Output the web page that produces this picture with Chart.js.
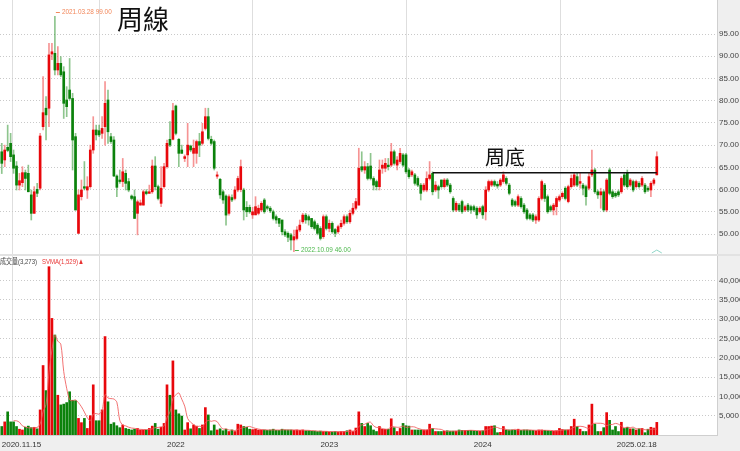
<!DOCTYPE html>
<html><head><meta charset="utf-8">
<script src="https://cdn.jsdelivr.net/npm/chart.js@4.4.1/dist/chart.umd.min.js"></script>
<style>
html,body{margin:0;padding:0;background:#fff;}
#wrap{position:relative;width:740px;height:451px;overflow:hidden;background:#fff;}
#pricebox{position:absolute;left:0;top:0;width:740px;height:254px;}
#volbox{position:absolute;left:0;top:256px;width:740px;height:195px;}
#sep{position:absolute;left:0;top:254px;width:740px;height:2px;background:#e2e2e2;}
.t{position:absolute;white-space:nowrap;line-height:1;}
#hdr{transform:scaleX(0.75);transform-origin:0 0;}
#dbg{position:absolute;left:300px;top:100px;color:#f0f;font:14px sans-serif;}
</style></head>
<body><div id="wrap">
<div id="pricebox"><canvas id="price" width="740" height="254"></canvas></div>
<div id="sep"></div>
<div id="volbox"><canvas id="vol" width="740" height="195"></canvas></div>
<div class="t" style="left:117px;top:5px;font-size:26px;font-family:'Noto Sans CJK TC','Noto Sans CJK SC',sans-serif;color:#111;">周線</div>
<div class="t" style="left:485px;top:147px;font-size:20px;font-family:'Noto Sans CJK TC','Noto Sans CJK SC',sans-serif;color:#111;">周底</div>
<div class="t" id="hdr" style="left:0px;top:257px;font-size:8px;font-family:'Liberation Sans',Arial,sans-serif;color:#444;"><span style="font-family:'Noto Sans CJK TC',sans-serif;">成交量</span>(3,273)&nbsp;&nbsp;&nbsp;<span style="color:#e83333;">SVMA(1,529)▲</span></div>
<div id="dbg"></div>
</div>
<script>
// ---- data (weekly, 2020.11.15 .. 2025.02.18) ----
const open = [
68.5,66.65,69.5,70.4,67.8,65.3,61.0,61.55,63.8,63.65,
58.8,54.65,60.05,60.3,74.15,78.3,78.3,90.5,90.65,86.9,
88.4,86.5,80.15,82.4,80.5,71.9,50.15,58.4,60.65,59.9,
60.65,68.9,73.4,73.25,72.65,74.15,80.15,71.9,71.15,63.05,
62.15,61.8,63.65,61.8,58.55,58.4,54.65,56.5,56.5,59.5,
59.15,59.5,65.3,60.65,56.9,60.65,65.15,71.3,71.3,78.8,
71.3,68.9,67.0,67.8,69.8,68.15,68.15,70.8,70.4,73.75,
76.4,71.3,70.8,63.0,62.3,59.5,58.55,54.65,58.2,58.0,
59.9,60.0,59.9,56.0,56.0,54.3,54.3,54.65,55.4,57.65,
56.15,55.8,55.0,53.9,53.5,53.15,50.5,50.15,49.8,48.65,
49.0,50.9,52.75,54.25,53.9,53.5,52.75,52.0,51.25,49.4,
53.9,51.25,52.4,51.0,50.5,51.65,52.4,53.9,52.75,54.65,
55.8,56.5,65.15,64.4,65.15,65.3,62.5,61.8,60.65,64.8,
64.8,65.5,65.5,68.5,65.5,66.3,67.8,67.8,64.4,63.3,
63.3,62.5,61.0,59.9,59.9,62.5,63.65,59.9,60.65,62.15,
60.65,62.15,61.0,58.0,55.4,56.5,57.3,55.4,56.5,56.15,
56.15,55.8,55.0,56.15,55.0,59.9,61.0,61.8,61.2,61.0,
61.8,62.5,61.0,57.65,57.3,56.5,58.0,56.5,55.4,54.3,
54.3,53.15,53.15,58.0,61.0,58.4,56.15,55.4,56.15,57.65,
58.4,60.3,57.3,60.65,61.0,62.9,61.4,61.0,60.65,60.3,
63.3,64.4,59.5,58.8,59.5,55.4,64.4,59.5,59.15,59.5,
59.5,63.3,63.65,61.0,61.8,60.65,61.4,61.0,61.0,60.3,
59.9,61.4,63.3];
const high = [
70.4,70.0,74.5,72.65,68.9,66.3,63.65,65.15,64.4,65.5,
59.9,60.65,61.4,72.65,85.4,80.9,92.9,92.9,99.0,92.15,
89.9,87.65,83.15,89.5,81.65,72.65,59.9,62.15,66.3,62.9,
70.0,76.4,74.5,74.5,76.4,84.3,82.4,72.65,71.9,63.3,
64.4,67.0,64.4,62.5,58.8,59.9,57.65,57.65,59.9,60.0,
61.0,66.65,67.4,61.0,65.15,65.9,71.15,75.3,79.4,79.0,
71.5,70.0,67.8,74.9,70.0,71.15,71.15,72.65,74.9,78.3,
78.3,72.0,71.15,64.0,62.5,59.9,58.8,58.8,58.8,60.65,
63.0,66.65,60.3,57.3,56.5,56.0,58.4,56.5,57.3,58.0,
56.5,56.2,55.4,54.3,53.5,53.15,51.0,50.5,50.15,50.9,
51.65,53.15,54.65,54.65,54.3,53.5,53.15,52.4,51.65,54.3,
54.3,53.15,52.75,51.25,52.0,53.15,54.3,54.3,55.4,56.9,
58.0,69.3,68.5,66.3,65.9,68.15,62.9,62.15,66.65,66.65,
67.0,67.0,70.4,68.9,67.4,69.3,68.15,68.15,64.8,64.4,
63.65,62.9,61.4,61.4,64.0,66.3,64.0,61.8,61.0,62.15,
62.5,62.5,61.4,58.4,57.3,56.9,57.65,56.5,56.9,56.5,
56.5,56.15,56.15,56.5,60.65,62.15,62.15,62.15,61.8,62.5,
64.0,62.9,61.4,58.0,57.65,58.8,58.4,56.9,55.8,54.65,
54.65,54.3,58.4,62.15,61.4,58.8,56.5,56.9,58.4,58.8,
59.5,60.65,61.0,63.3,63.65,63.65,63.65,61.4,61.0,63.65,
68.9,64.8,59.9,60.3,59.9,62.5,64.8,59.9,59.5,59.9,
62.9,63.65,64.4,62.5,62.15,62.15,61.8,62.9,61.4,60.65,
61.8,62.5,68.5];
const low = [
63.6,65.15,68.5,66.3,63.65,59.9,59.9,60.65,59.9,59.5,
53.15,54.65,58.4,59.9,73.4,71.15,74.15,89.2,85.8,85.8,
85.4,76.0,76.4,80.15,64.4,55.4,50.15,57.65,59.9,58.0,
60.3,68.15,71.15,71.9,71.5,70.0,70.4,70.4,62.9,58.4,
61.4,60.65,59.9,59.5,57.65,53.5,49.8,56.5,56.5,58.8,
59.1,59.15,59.9,57.65,56.15,60.3,64.8,69.65,71.15,72.3,
65.15,68.15,66.3,65.15,68.5,65.15,65.9,67.4,70.0,73.4,
71.15,70.0,64.4,62.5,58.0,56.9,52.0,54.25,57.3,57.65,
59.5,59.5,53.15,53.9,54.65,53.5,54.3,54.3,55.0,54.65,
55.4,54.8,53.15,52.4,51.65,49.8,49.4,48.3,46.4,46.0,
48.65,50.5,52.4,52.4,52.0,51.25,50.9,49.8,48.65,49.0,
50.9,50.5,50.15,49.4,50.15,51.25,52.0,52.4,52.4,54.3,
55.4,56.5,64.0,63.65,62.15,62.15,59.9,59.9,59.9,63.65,
64.0,64.4,65.15,65.5,64.4,65.9,65.15,63.65,62.5,62.9,
61.0,60.65,57.65,59.5,59.5,62.15,58.8,59.5,58.0,60.3,
60.3,60.65,59.15,55.0,55.0,55.0,54.65,55.0,55.0,54.65,
55.0,53.5,54.65,53.5,53.15,59.5,60.65,60.65,60.3,60.65,
61.4,61.0,58.8,56.15,56.15,56.15,55.8,54.65,53.15,53.15,
52.8,52.4,52.8,57.65,57.3,54.65,55.0,54.3,54.3,57.3,
58.0,57.65,57.0,60.3,60.65,60.65,60.3,58.8,56.5,59.9,
62.9,59.15,58.0,55.8,55.0,55.0,58.8,58.0,58.2,58.4,
59.15,60.65,60.3,60.65,59.5,60.3,60.3,60.65,59.15,59.5,
58.4,61.0,63.3];
const close = [
65.9,68.9,68.8,67.4,64.8,61.0,62.0,63.8,62.5,59.5,
54.65,59.5,59.15,72.05,77.3,76.8,90.3,91.0,86.9,88.4,
85.8,79.4,78.65,80.5,71.15,55.4,58.8,59.9,60.3,60.65,
68.9,73.4,72.3,72.3,73.75,79.4,73.0,70.8,63.05,60.5,
61.8,64.0,61.4,59.9,58.0,53.5,57.25,57.0,59.5,59.1,
59.5,65.3,60.65,58.0,60.3,65.15,70.4,70.0,77.75,72.65,
68.15,68.15,67.4,70.0,68.9,69.3,70.8,70.0,73.0,76.4,
71.5,70.4,64.8,63.3,58.8,57.65,54.25,58.4,57.65,59.9,
62.5,65.15,55.4,55.0,55.0,55.0,56.15,55.8,56.9,55.0,
55.8,55.2,53.5,53.15,52.4,50.5,49.8,49.25,48.65,49.4,
50.9,52.0,54.25,53.15,53.15,51.65,51.25,50.15,49.0,53.9,
51.25,52.4,50.5,50.15,51.65,52.4,53.9,52.75,54.65,55.8,
57.3,64.8,64.4,65.15,62.5,62.5,61.0,60.65,64.4,65.5,
65.9,65.15,68.5,65.9,66.65,68.15,65.5,64.0,62.9,64.0,
61.4,61.0,59.15,61.0,62.5,63.3,59.5,61.0,59.9,60.65,
62.15,61.0,59.5,55.4,56.9,55.4,55.0,56.15,55.4,55.4,
55.4,54.3,55.8,54.3,59.9,61.8,61.8,61.0,60.8,62.15,
63.3,61.4,59.15,56.5,56.5,58.4,56.15,55.0,53.5,53.5,
53.15,53.9,58.0,61.8,58.0,55.0,55.4,56.5,58.0,58.4,
59.15,58.0,60.65,62.5,63.3,61.0,61.8,60.3,58.4,62.9,
64.4,59.5,58.8,59.5,55.4,62.15,59.15,58.4,58.55,58.8,
62.5,61.0,60.65,62.15,59.9,61.8,60.65,62.5,59.5,59.9,
61.4,62.15,67.4];
const volume = [
2200,3400,6000,3400,3400,2200,1500,1300,2000,2300,
1900,2000,1600,6500,18000,11500,43600,30200,25900,10300,
7800,8000,8400,11200,9000,8900,4300,3200,4300,1700,
5000,13000,3700,3700,6500,25500,8600,2800,3200,2400,
1900,2600,1700,1500,1300,1500,1700,1300,1300,1300,
1700,2300,3000,1500,2000,3000,13000,10300,19200,6500,
5500,4900,1300,3200,1600,2600,2300,1700,2600,7100,
5200,1100,2600,1300,1600,1100,1500,900,1300,900,
2800,2600,2200,2000,1500,1400,1500,1300,1300,1300,
1200,1300,1500,1200,1200,1500,1300,1300,1300,1200,
1300,1200,1300,1100,1100,1000,1000,900,1000,900,
900,800,800,900,800,900,900,1100,1300,900,
1800,6000,3000,2200,3000,2400,1300,900,2200,1500,
1500,1500,4200,1900,900,1700,3000,2400,2300,1300,
1300,1300,1300,1300,1300,2800,1700,900,900,900,
1000,1100,1000,1000,1000,1300,1200,1200,1200,1200,
1100,1000,1000,1100,2200,2200,2300,2400,600,700,
2200,1300,1300,1300,1200,1500,1200,1300,1300,1200,
1200,1100,1300,1300,1200,1100,1000,1000,1100,1700,
1400,1300,1300,2200,4100,2200,1500,900,900,2600,
8000,2800,900,900,1900,5800,3800,1300,2200,900,
3300,1700,2000,1600,1600,1300,1600,1700,600,1500,
2000,1800,3273];
const svma = [
null,null,null,null,3680,3680,3300,2360,2080,1860,
1800,1900,1960,2860,6000,7920,16240,21960,25840,24300,
23560,16440,12080,9140,8880,9100,8360,7320,5940,4480,
3700,5440,5540,5420,6380,10480,9600,9420,9320,8500,
3780,2580,2360,2020,1800,1720,1540,1460,1420,1420,
1460,1580,1920,1960,2100,2360,4500,5960,9500,10400,
10900,9280,7480,4280,3300,2720,2200,2280,2160,3260,
3780,3540,3720,3460,2360,1540,1620,1280,1280,1140,
1480,1700,1960,2100,2220,1940,1720,1540,1400,1360,
1320,1280,1320,1300,1280,1340,1340,1300,1320,1320,
1280,1260,1260,1220,1200,1140,1100,1020,1000,960,
940,900,880,860,840,840,860,920,1000,1020,
1200,2220,2600,2780,3200,3320,2380,1960,1960,1660,
1480,1520,2180,2120,2000,2040,2340,1980,2060,2140,
2060,1720,1500,1300,1300,1600,1680,1600,1520,1440,
1080,960,980,1000,1020,1080,1100,1140,1180,1220,
1180,1140,1100,1080,1280,1500,1760,2040,1940,1640,
1640,1440,1220,1360,1460,1320,1300,1300,1300,1300,
1240,1220,1220,1220,1220,1200,1180,1120,1080,1180,
1240,1300,1360,1580,2060,2220,2260,2180,1920,1620,
2780,3040,3040,3040,2900,2460,2660,2740,3000,2800,
2300,1880,2020,1900,2040,1640,1620,1560,1360,1340,
1480,1520,1529];
const tickIndex  = [0, 7, 59, 111, 163, 216, 222];
const tickLabels = ['2020.11.15', '', '2022', '2023', '2024', '', '2025.02.18'];
const yearLineIndex = [7, 59, 111, 163, 216];
const priceTicks = [50, 55, 60, 65, 70, 75, 80, 85, 90, 95];
const volumeTicks = [5000, 10000, 15000, 20000, 25000, 30000, 35000, 40000];
const highMark = { index: 18, value: 99.00, date: '2021.03.28' };
const lowMark  = { index: 99, value: 46.00, date: '2022.10.09' };
const baseLine = { from: 146, to: 222, level: 63.8 };

// ---- checks ----
const lens = [open.length, high.length, low.length, close.length, volume.length, svma.length];
if (lens.some(l => l !== lens[0])) document.getElementById('dbg').textContent = 'LEN ' + lens.join(',');

// ---- styling ----
const RED = '#e8070b', GREEN = '#0b820b';
const RED_W = 'rgba(238,60,60,0.55)', GREEN_W = 'rgba(30,140,30,0.5)';
const AXIS_BG = '#efefef', AXIS_LINE = '#cfcfcf';
const GRID = '#c9c9c9', VLINE = '#dedede';
const FONT = "'Liberation Sans',Arial,sans-serif";
const X_MIN = -0.6, X_MAX = 242.4;
const idx = close.map((_, i) => i);
const isUp = close.map((c, i) => c >= open[i]);

function stripPlugin(withBottom) {
  return {
    id: 'strip',
    beforeDraw(chart) {
      const { ctx, chartArea: a, width, height } = chart;
      ctx.save();
      ctx.fillStyle = AXIS_BG;
      ctx.fillRect(a.right, 0, width - a.right, height);
      if (withBottom) ctx.fillRect(0, a.bottom, width, height - a.bottom);
      ctx.fillStyle = AXIS_LINE;
      ctx.fillRect(a.right, 0, 1, withBottom ? a.bottom + 1 : height);
      if (withBottom) ctx.fillRect(0, a.bottom, a.right + 1, 1);
      ctx.restore();
    }
  };
}

function xScale(showLabels) {
  return {
    type: 'linear', min: X_MIN, max: X_MAX, offset: false,
    afterBuildTicks: s => { s.ticks = tickIndex.map(v => ({ value: v })); },
    afterFit: s => { s.height = showLabels ? 16 : 0; s.paddingLeft = 0; s.paddingRight = 0; },
    ticks: {
      display: showLabels, autoSkip: false, maxRotation: 0, align: 'inner', padding: 5,
      font: { family: FONT, size: 8 }, color: '#333',
      callback: (v) => { const k = tickIndex.indexOf(v); return k >= 0 ? tickLabels[k] : ''; }
    },
    grid: { drawTicks: false, color: c => (c.tick && yearLineIndex.includes(c.tick.value)) ? VLINE : 'rgba(0,0,0,0)' },
    border: { display: false }
  };
}
function yScale(min, max, ticks, fmt) {
  return {
    position: 'right', min, max,
    afterBuildTicks: s => { s.ticks = ticks.map(v => ({ value: v })); },
    afterFit: s => { s.width = 23; s.paddingTop = 0; s.paddingBottom = 0; },
    ticks: { font: { family: FONT, size: 8 }, color: '#444', padding: 2, callback: fmt },
    grid: { drawTicks: false, color: GRID, lineWidth: 1 },
    border: { display: false, dash: [1, 2] }
  };
}

const marksPlugin = {
  id: 'marks',
  afterDatasetsDraw(chart) {
    const { ctx, scales: { x, y }, chartArea: a } = chart;
    ctx.save();
    ctx.font = "8px " + FONT;
    ctx.textBaseline = 'middle';
    [[highMark, '#f2875a', -4], [lowMark, '#4cb84c', -2]].forEach(([m, col, dy]) => {
      const px = x.getPixelForValue(m.index), py = Math.round(y.getPixelForValue(m.value) + dy);
      ctx.strokeStyle = col; ctx.fillStyle = col; ctx.lineWidth = 1;
      ctx.beginPath(); ctx.moveTo(px + 1, py + 0.5); ctx.lineTo(px + 5, py + 0.5); ctx.stroke();
      ctx.save();
      ctx.translate(px + 7, py);
      ctx.scale(0.8, 1);
      ctx.fillText(m.date + ' ' + m.value.toFixed(2), 0, 0);
      ctx.restore();
    });
    // caret at last bar
    const lx = x.getPixelForValue(close.length - 1);
    ctx.strokeStyle = '#8fd6c8'; ctx.lineWidth = 1;
    ctx.beginPath(); ctx.moveTo(lx - 5, a.bottom - 1); ctx.lineTo(lx, a.bottom - 4); ctx.lineTo(lx + 5, a.bottom - 1); ctx.stroke();
    ctx.restore();
  }
};

new Chart(document.getElementById('price'), {
  type: 'bar',
  data: {
    datasets: [
      { label: 'wick', data: idx.map(i => ({ x: i, y: [low[i], high[i]] })),
        backgroundColor: c => isUp[c.dataIndex] ? RED_W : GREEN_W, barThickness: 1, grouped: false, order: 3 },
      { label: 'body', data: idx.map(i => ({ x: i, y: [open[i], close[i]] })),
        backgroundColor: c => isUp[c.dataIndex] ? RED : GREEN, barThickness: 2, minBarLength: 1, grouped: false, order: 2 },
      { type: 'line', label: 'base', data: [{ x: baseLine.from, y: baseLine.level }, { x: baseLine.to, y: baseLine.level }],
        borderColor: '#111', borderWidth: 1.5, pointRadius: 0, order: 1 }
    ]
  },
  options: {
    responsive: false, animation: false, events: [],
    layout: { padding: 0 },
    plugins: { legend: { display: false }, tooltip: { enabled: false } },
    scales: {
      x: xScale(false),
      y: yScale(45.5, 102.65, priceTicks, v => Number(v).toFixed(2))
    }
  },
  plugins: [stripPlugin(false), marksPlugin]
});

new Chart(document.getElementById('vol'), {
  type: 'bar',
  data: {
    datasets: [
      { label: 'vol', data: idx.map(i => ({ x: i, y: volume[i] })),
        backgroundColor: c => isUp[c.dataIndex] ? RED : GREEN, barThickness: 2, grouped: false, order: 2 },
      { type: 'line', label: 'SVMA', data: idx.map(i => ({ x: i, y: svma[i] })),
        borderColor: 'rgba(240,90,90,0.85)', borderWidth: 1, pointRadius: 0, tension: 0.3, spanGaps: false, order: 1 }
    ]
  },
  options: {
    responsive: false, animation: false, events: [],
    layout: { padding: 0 },
    plugins: { legend: { display: false }, tooltip: { enabled: false } },
    scales: {
      x: xScale(true),
      y: yScale(0, 46370, volumeTicks, v => Number(v).toLocaleString('en-US'))
    }
  },
  plugins: [stripPlugin(true)]
});
</script>
</body></html>
